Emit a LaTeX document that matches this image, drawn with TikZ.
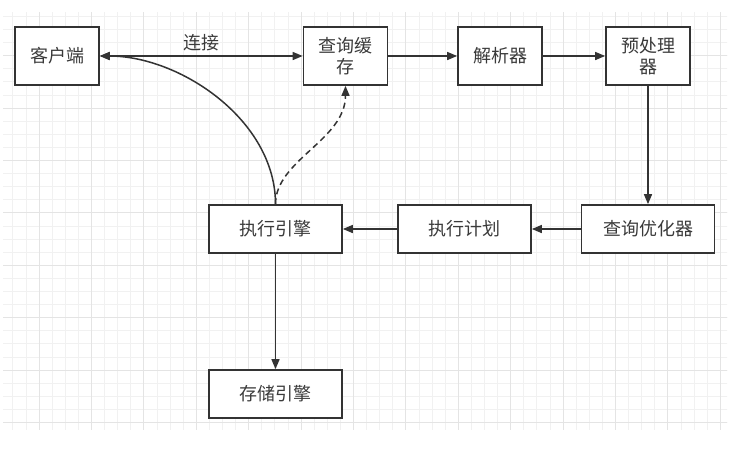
\documentclass[tikz,border=0pt]{standalone}
\usepackage{fontspec}
\setmainfont{Noto Sans CJK SC}
\usetikzlibrary{arrows.meta}
\definecolor{ln}{HTML}{333333}
\definecolor{tx}{HTML}{3A3A3A}
\definecolor{gmin}{HTML}{F1F1F1}
\definecolor{gmaj}{HTML}{E4E4E4}
\begin{document}
\begin{tikzpicture}[x=1pt,y=-1pt,
  box/.style={draw=ln,line width=1.7pt,fill=white,inner sep=0pt,align=center,text=tx,font=\fontsize{18}{21}\selectfont},
  topbox/.style={box,minimum width=84pt,minimum height=58pt},
  lowbox/.style={box,minimum width=133pt,minimum height=48pt},
  arr/.style={draw=ln,line width=1.5pt,-{Triangle[length=10pt,width=8pt]}},
  lbl/.style={text=tx,font=\fontsize{18}{21}\selectfont}]
\fill[white] (0,0) rectangle (744,451);
\useasboundingbox (0,0) rectangle (744,451);
\begin{scope}
\clip (3,12) rectangle (727,429);
\foreach \k in {-3,...,53} \draw[gmin,line width=0.8pt] ({39+13.1*\k},0) -- ({39+13.1*\k},451);
\foreach \k in {-28,...,5} \draw[gmin,line width=0.8pt] (0,{370+13.1*\k}) -- (744,{370+13.1*\k});
\foreach \k in {-1,...,14} \draw[gmaj,line width=0.9pt] ({39+52.4*\k},0) -- ({39+52.4*\k},451);
\foreach \k in {-7,...,2} \draw[gmaj,line width=0.9pt] (0,{370+52.4*\k}) -- (744,{370+52.4*\k});
\end{scope}
% nodes
\node[topbox] (client) at (57,56) {客户端};
\node[topbox] (cache) at (345.5,56) {查询缓\\存};
\node[topbox] (parser) at (500,56) {解析器};
\node[topbox] (pre) at (648,56) {预处理\\器};
\node[lowbox] (exec) at (275.5,229) {执行引擎};
\node[lowbox] (plan) at (464.5,229) {执行计划};
\node[lowbox] (opt) at (648,229) {查询优化器};
\node[lowbox] (store) at (275.5,394) {存储引擎};
% connectors
\draw[draw=ln,line width=1.5pt,{Triangle[length=10pt,width=8pt]}-{Triangle[length=10pt,width=8pt]}] (client.east) -- node[lbl,above=1pt] {连接} (cache.west);
\draw[arr] (cache) -- (parser);
\draw[arr] (parser) -- (pre);
\draw[arr] (pre) -- (opt);
\draw[arr] (opt) -- (plan);
\draw[arr] (plan) -- (exec);
\draw[arr] (exec) -- (store);
\draw[arr] (exec.north) .. controls (275.5,120) and (180,56) .. (client.east);
\draw[arr,dashed,dash pattern=on 6pt off 4pt] (exec.north) .. controls (275.5,160) and (345.5,140) .. (cache.south);
\end{tikzpicture}
\end{document}
